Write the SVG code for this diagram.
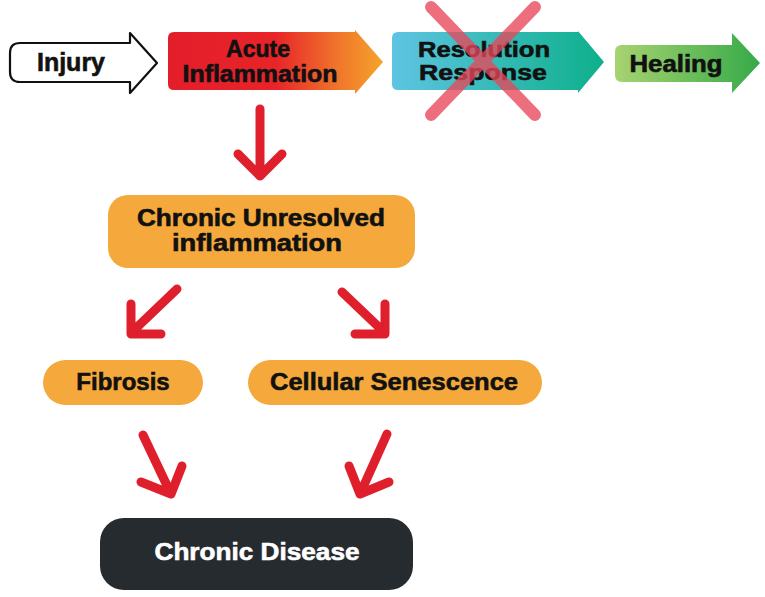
<svg xmlns="http://www.w3.org/2000/svg" width="765" height="597" viewBox="0 0 765 597">
<defs>
<linearGradient id="gAcute" x1="168" y1="0" x2="383" y2="0" gradientUnits="userSpaceOnUse">
<stop offset="0" stop-color="#e31e2b"/><stop offset="0.5" stop-color="#e82429"/><stop offset="0.8" stop-color="#f0782b"/><stop offset="1" stop-color="#f5a42b"/>
</linearGradient>
<linearGradient id="gRes" x1="392" y1="0" x2="604" y2="0" gradientUnits="userSpaceOnUse">
<stop offset="0" stop-color="#5ec4e2"/><stop offset="1" stop-color="#0db08a"/>
</linearGradient>
<linearGradient id="gHeal" x1="615" y1="0" x2="760" y2="0" gradientUnits="userSpaceOnUse">
<stop offset="0" stop-color="#a8d370"/><stop offset="1" stop-color="#35aa48"/>
</linearGradient>
<style>
.t{font-family:"Liberation Sans",Arial,sans-serif;font-weight:bold;fill:#111;stroke:#111;stroke-width:0.6;text-anchor:middle}
.w{fill:#fff;stroke:#fff}
.ora{fill:#f5a93c}
.arr{fill:none;stroke:#e01f2d;stroke-width:9;stroke-linecap:round;stroke-linejoin:round}
</style>
</defs>
<rect width="765" height="597" fill="#fff"/>

<g id="injury">
<path d="M20,43 H130 V33 L157,63 L130,93 V82 H20 Q10,82 10,72 V53 Q10,43 20,43 Z" fill="#fff" stroke="#111" stroke-width="2.2" stroke-linejoin="round"/>
<text class="t" x="71" y="71" font-size="25">Injury</text>
</g>

<g id="acute">
<path d="M174,32 H355 V30 L383,62 L355,94 V90 H174 Q168,90 168,84 V38 Q168,32 174,32 Z" fill="url(#gAcute)"/>
<text class="t" x="258" y="57" font-size="23">Acute</text>
<text class="t" x="260" y="82" font-size="23" textLength="155" lengthAdjust="spacingAndGlyphs">Inflammation</text>
</g>

<g id="resolution">
<path d="M398,32 H578 V31 L604,62 L578,93 V90 H398 Q392,90 392,84 V38 Q392,32 398,32 Z" fill="url(#gRes)"/>
<text class="t" x="484" y="57" font-size="22" textLength="132" lengthAdjust="spacingAndGlyphs">Resolution</text>
<text class="t" x="483" y="80" font-size="22" textLength="128" lengthAdjust="spacingAndGlyphs">Response</text>
<path d="M431,7 L535,115 M535,7 L431,115" stroke="#e8475a" stroke-opacity="0.78" stroke-width="12" stroke-linecap="round" fill="none"/>
</g>

<g id="healing">
<path d="M622,45 H732 V33 L760,63 L732,93 V82 H622 Q615,82 615,75 V52 Q615,45 622,45 Z" fill="url(#gHeal)"/>
<text class="t" x="676" y="72" font-size="23" textLength="93" lengthAdjust="spacingAndGlyphs">Healing</text>
</g>

<g id="chronic-unresolved">
<rect x="108" y="195" width="307" height="73" rx="20" class="ora"/>
<text class="t" x="261" y="226" font-size="23" textLength="248" lengthAdjust="spacingAndGlyphs">Chronic Unresolved</text>
<text class="t" x="257" y="251" font-size="23" textLength="170" lengthAdjust="spacingAndGlyphs">inflammation</text>
</g>

<g id="fibrosis">
<rect x="43" y="360" width="160" height="45" rx="22.5" class="ora"/>
<text class="t" x="123" y="390" font-size="24">Fibrosis</text>
</g>

<g id="senescence">
<rect x="248" y="360" width="294" height="45" rx="22.5" class="ora"/>
<text class="t" x="394" y="390" font-size="24" textLength="248" lengthAdjust="spacingAndGlyphs">Cellular Senescence</text>
</g>

<g id="chronic-disease">
<rect x="100" y="518" width="313" height="72" rx="24" fill="#262b30"/>
<text class="t w" x="257" y="560" font-size="24" textLength="205" lengthAdjust="spacingAndGlyphs">Chronic Disease</text>
</g>

<g id="connectors">
<path class="arr" d="M260,109 V176 M238,154 L260,176 L282,154"/>
<path class="arr" d="M177,289 L131,333 M131,304 V334 H161"/>
<path class="arr" d="M342,292 L385,333 M385,304 V334 H355"/>
<path class="arr" d="M143,435 L171,494 M141,482 L171,494 L182,466"/>
<path class="arr" d="M387,434 L360,494 M349,466 L360,494 L389,482"/>
</g>
</svg>
